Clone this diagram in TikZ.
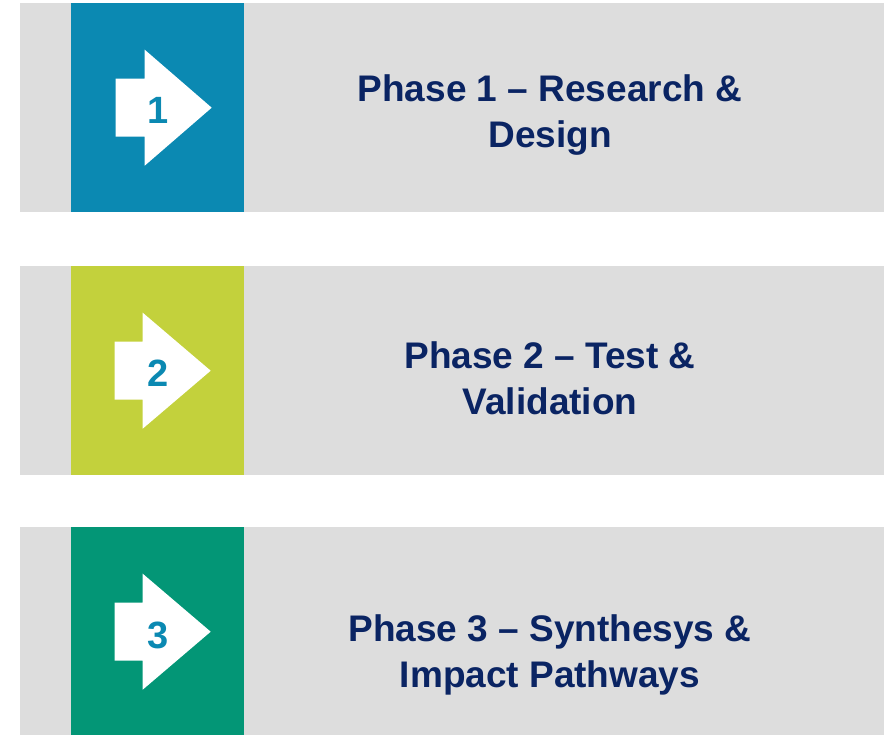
\documentclass[tikz,border=0pt]{standalone}
\usepackage{fontspec}
\setmainfont{Liberation Sans}
\usetikzlibrary{positioning}

\definecolor{phaseblue}{HTML}{0B89B2}
\definecolor{phaselime}{HTML}{C3D13C}
\definecolor{phasegreen}{HTML}{039676}
\definecolor{bandgray}{HTML}{DDDDDD}
\definecolor{titlenavy}{HTML}{0A2463}

\begin{document}
\begin{tikzpicture}[x=1pt, y=-1pt,
    band/.style = {fill=bandgray, minimum width=864pt, minimum height=209pt, inner sep=0pt, anchor=north west},
    tile/.style = {fill=#1, minimum width=173pt, minimum height=209pt, inner sep=0pt, anchor=north west},
    num/.style = {text=phaseblue, inner sep=0pt, font=\bfseries\fontsize{38}{38}\selectfont},
    title/.style = {text=titlenavy, inner sep=0pt, anchor=north, align=center, font=\bfseries\fontsize{37}{46}\selectfont}]

    \useasboundingbox (0,0) rectangle (884,735);

    % Bands
    \node[band] (b1) at (20,3) {};
    \node[band] (b2) at (20,266) {};
    \node[band] (b3) at (20,527) {};

    % Coloured tiles
    \node[tile=phaseblue] (t1) at (71,3) {};
    \node[tile=phaselime] (t2) at (71,266) {};
    \node[tile=phasegreen] (t3) at (71,527) {};

    % Arrows
    \fill[white, shift={(t1.center)}] (-42,-29) -- (-13,-29) -- (-13,-58) -- (54,0) -- (-13,58) -- (-13,29) -- (-42,29) -- cycle;
    \fill[white, shift={(t2.center)}] (-43,-29) -- (-15,-29) -- (-15,-58) -- (53,0) -- (-15,58) -- (-15,29) -- (-43,29) -- cycle;
    \fill[white, shift={(t3.center)}] (-43,-29) -- (-15,-29) -- (-15,-58) -- (53,0) -- (-15,58) -- (-15,29) -- (-43,29) -- cycle;

    % Numbers
    \node[num] (n1) at ([yshift=-3pt]t1.center) {1};
    \node[num] (n2) at ([yshift=-3pt]t2.center) {2};
    \node[num] (n3) at ([yshift=-4pt]t3.center) {3};

    % Titles
    \node[title] (p1) at (550,74) {Phase 1 -- Research \&\\Design};
    \node[title] (p2) at (550,341) {Phase 2 -- Test \&\\Validation};
    \node[title] (p3) at (550,614) {Phase 3 -- Synthesys \&\\Impact Pathways};

\end{tikzpicture}
\end{document}
